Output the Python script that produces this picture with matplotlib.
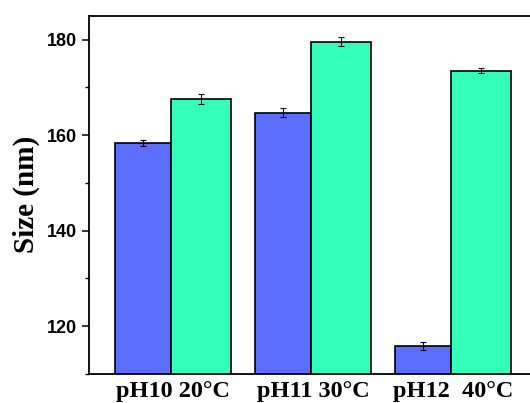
import numpy as np
import matplotlib.pyplot as plt
from matplotlib.ticker import MultipleLocator

# -- Data:
groups = ['pH10 20\u00b0C', 'pH11 30\u00b0C', 'pH12  40\u00b0C']
ph_size = [158.3, 164.7, 115.8]
ph_err = [0.6, 0.9, 0.8]
temp_size = [167.6, 179.6, 173.5]
temp_err = [1.05, 1.0, 0.5]

blue = '#5B6EFF'
green = '#33FFBB'

fig = plt.figure(figsize=(5.3, 4.03), dpi=100)
ax = fig.add_axes([0.168, 0.072, 0.8466, 0.889])

x = np.arange(len(groups))
w_ph, w_t = 0.4, 0.433
ax.bar(x - w_ph / 2, ph_size, w_ph, color=blue, edgecolor='black', linewidth=1.2,
       yerr=ph_err, error_kw=dict(ecolor='black', elinewidth=0.8, capsize=2.5, capthick=0.8))
ax.bar(x + w_t / 2, temp_size, w_t, color=green, edgecolor='black', linewidth=1.2,
       yerr=temp_err, error_kw=dict(ecolor='black', elinewidth=0.8, capsize=2.5, capthick=0.8))

ax.set_xlim(-0.584, 2.621)
ax.set_ylim(110, 185)

ax.set_xticks(x + (w_t - w_ph) / 2)
ax.set_xticklabels(groups, fontfamily='Liberation Serif', fontweight='bold', fontsize=17.5)
ax.tick_params(axis='x', length=0, pad=5)

ax.yaxis.set_major_locator(MultipleLocator(20))
ax.yaxis.set_minor_locator(MultipleLocator(10))
ax.tick_params(axis='y', which='major', direction='out', length=5, width=1.1, labelsize=13)
ax.tick_params(axis='y', which='minor', direction='out', length=3, width=1.0)
for lab in ax.get_yticklabels():
    lab.set_fontfamily('Liberation Sans')
    lab.set_fontweight('bold')

ax.set_ylabel('Size (nm)', fontfamily='Liberation Serif', fontweight='bold', fontsize=21, labelpad=5)

for s in ax.spines.values():
    s.set_linewidth(1.3)

fig.savefig('out.png', dpi=100)
